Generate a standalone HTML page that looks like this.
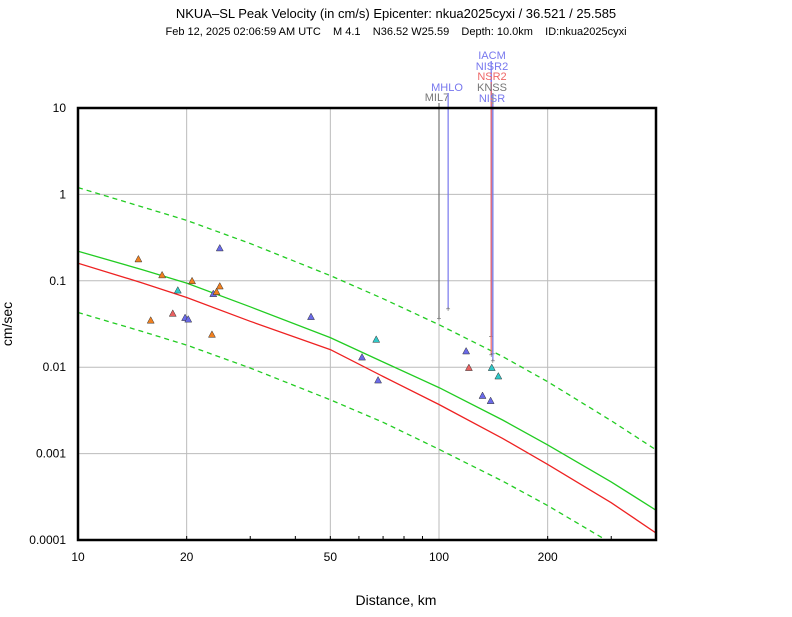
<!DOCTYPE html>
<html><head><meta charset="utf-8"><style>
body{margin:0;background:#fff;width:792px;height:612px;overflow:hidden;font-family:"Liberation Sans",sans-serif}
svg text{font-family:"Liberation Sans",sans-serif}
</style></head><body>
<svg id="chart" width="792" height="612" xmlns="http://www.w3.org/2000/svg">
<text x="396" y="18" font-size="13" text-anchor="middle">NKUA–SL Peak Velocity (in cm/s) Epicenter: nkua2025cyxi / 36.521 / 25.585</text>
<text x="396" y="35" font-size="11" text-anchor="middle" style="white-space:pre" xml:space="preserve">Feb 12, 2025 02:06:59 AM UTC    M 4.1    N36.52 W25.59    Depth: 10.0km    ID:nkua2025cyxi</text>
<text x="396" y="605" font-size="14" text-anchor="middle">Distance, km</text>
<text x="12" y="324" font-size="14" text-anchor="middle" transform="rotate(-90 12 324)">cm/sec</text>
<g id="plot"></g>
</svg>
<script>
const xTicks=[10,20,50,100,200];
const yTicks=[10,1,0.1,0.01,0.001,0.0001];
const yTickLabels=["10","1","0.1","0.01","0.001","0.0001"];
const curveDist=[10,15,20,30,50,70,100,150,200,300,400];
const meanVel=[0.22,0.135,0.094,0.05,0.022,0.0115,0.0058,0.00245,0.00126,0.00047,0.00022];
const upperVel=[1.2,0.72,0.5,0.27,0.115,0.062,0.031,0.0133,0.0068,0.0024,0.0011];
const lowerVel=[0.043,0.026,0.018,0.0098,0.0042,0.0023,0.00112,0.00048,0.00025,0.000092,0.000043];
const redVel=[0.16,0.095,0.064,0.034,0.016,0.0078,0.0037,0.0015,0.00075,0.00027,0.00012];
const ptDist=[14.7,17.1,15.9,18.3,18.9,19.8,20.2,20.7,23.5,23.7,24.2,24.7,24.7,44.2,61.2,67,67.8,118.9,121,140,146,132,139];
const ptVel=[0.179,0.117,0.035,0.042,0.078,0.0375,0.036,0.1,0.024,0.071,0.075,0.087,0.24,0.0385,0.0131,0.021,0.0071,0.0154,0.0099,0.0099,0.0079,0.0047,0.0041];
const ptColor=["o","o","o","r","c","b","b","o","o","b","o","o","b","b","b","c","b","b","r","c","c","b","b"];
const stations=["MIL7","MHLO","IACM","NISR2","NSR2","KNSS","NISR"];
const stDist=[100,106,139.5,139.5,139.5,141,141];
const stVel=[0.037,0.048,0.023,0.023,0.014,0.0145,0.012];
const stColor=["#777","#7777ee","#7777ee","#7777ee","#ee6666","#777","#7777ee"];
const stLabelY=[101,91,59,70,80,91,102];
const stLabelX=[437,447,492,492,492,492,492];

const X0=78,X1=656,Y0=108,Y1=540;
const xs=d=>X0+(Math.log10(d)-1)*361;
const ys=v=>Y0+(1-Math.log10(v))*86.4;
const cols={o:"#f08020",b:"#6a6ae8",c:"#30c8c8",r:"#e86060"};
const NS="http://www.w3.org/2000/svg";
const g=document.getElementById('plot');
function mk(t,a,parent){const e=document.createElementNS(NS,t);for(const k in a)e.setAttribute(k,a[k]);(parent||g).appendChild(e);return e;}

xTicks.forEach((t,i)=>{
 const x=xs(t);
 const l=mk('line',{x1:x,x2:x,y1:Y0,y2:Y1,stroke:'#bbb','stroke-width':1});
 
 
 const tx=mk('text',{x:x,y:561,'font-size':12,'text-anchor':'middle'});tx.textContent=t;
 
 
});
yTicks.forEach((t,i)=>{
 const y=ys(t);
 const l=mk('line',{x1:X0,x2:X1,y1:y,y2:y,stroke:'#bbb','stroke-width':1});
 
 
 const tx=mk('text',{x:66,y:y+4,'font-size':12,'text-anchor':'end'});tx.textContent=yTickLabels[i];
 
 
});
for(let dec=10;dec<400;dec*=10){for(let k=2;k<10;k++){const d=dec*k;if(d>400)break;const x=xs(d);
 const m=mk('line',{x1:x,x2:x,y1:Y1,y2:Y1-4,stroke:'#000','stroke-width':1});
 
 }}

const cp=mk('clipPath',{id:'clip'});mk('rect',{x:X0,y:Y0,width:X1-X0,height:Y1-Y0},cp);
const cg=mk('g',{'clip-path':'url(#clip)'});


function curve(vals,color,dash,name){
 const p=vals.map((v,i)=>`${xs(curveDist[i]).toFixed(1)},${ys(v).toFixed(1)}`).join(' ');
 const a={points:p,fill:'none',stroke:color,'stroke-width':1.3,'stroke-linejoin':'round'};
 if(dash)a['stroke-dasharray']='5,4';
 const e=mk('polyline',a,cg);
 
 
}
curve(upperVel,'#22cc22',true,'upper-bound-curve');
curve(lowerVel,'#22cc22',true,'lower-bound-curve');
curve(meanVel,'#22cc22',false,'mean-curve');
curve(redVel,'#ee2222',false,'red-curve');

stations.forEach((s,i)=>{
 const x=xs(stDist[i]),y=ys(stVel[i]);
 const l=mk('line',{x1:x,x2:x,y1:stLabelY[i]+2,y2:y,stroke:stColor[i],'stroke-width':1.2});
 
 
 const c=mk('text',{x:x,y:y+3,'font-size':8,'text-anchor':'middle',fill:'#666'});c.textContent='+';
 
 
 const t=mk('text',{x:stLabelX[i],y:stLabelY[i],'font-size':11,'text-anchor':'middle',fill:stColor[i]});t.textContent=s;
 
 
});

ptDist.forEach((d,i)=>{
 const x=xs(d),y=ys(ptVel[i]);
 const p=mk('polygon',{points:`${x-3.5},${y+3} ${x+3.5},${y+3} ${x},${y-3.5}`,fill:cols[ptColor[i]],stroke:'#333','stroke-width':0.5});
 
 
});

const f=mk('rect',{x:X0,y:Y0,width:X1-X0,height:Y1-Y0,fill:'none',stroke:'#000','stroke-width':2.5});


</script>
</body></html>
